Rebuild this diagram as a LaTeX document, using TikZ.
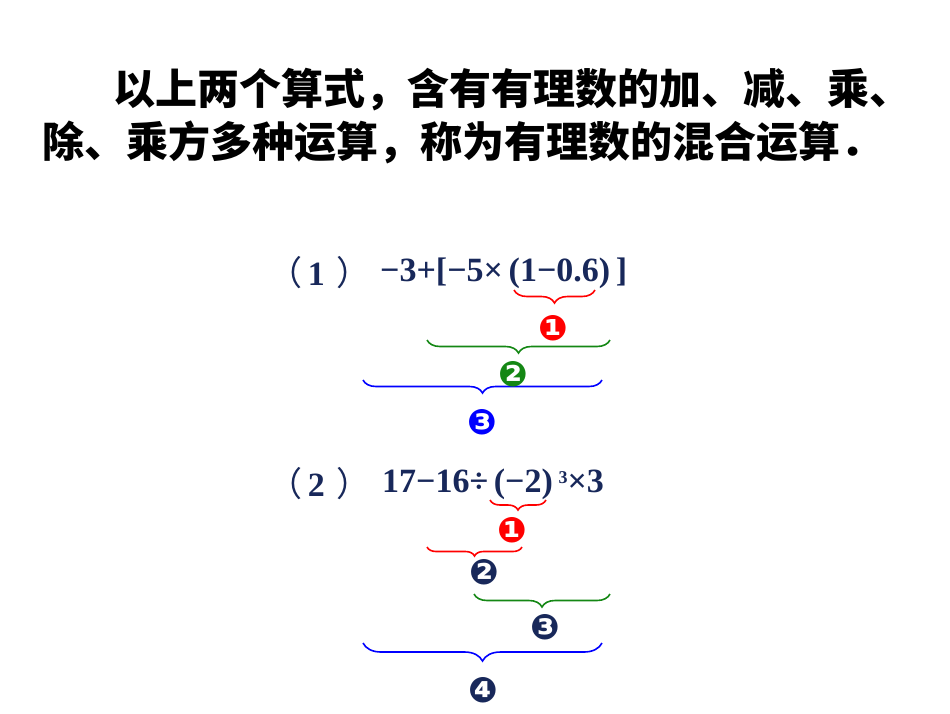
\documentclass[tikz,border=0pt]{standalone}
\usepackage{fontspec}
\setmainfont{Liberation Serif}
\newfontfamily\cjk{Noto Sans CJK SC}
\newfontfamily\dv{DejaVu Sans}
\usetikzlibrary{decorations.pathreplacing}
\definecolor{navy}{RGB}{24,40,90}
\definecolor{dgreen}{RGB}{20,135,20}
\begin{document}
\begin{tikzpicture}[x=1pt, y=-1pt]
  % -----------------------------
  % STYLES
  % -----------------------------
  \tikzset{
    title/.style={font=\cjk\bfseries\fontsize{42}{48}\selectfont, anchor=west, inner sep=0pt},
    formula/.style={font=\bfseries\fontsize{34}{38}\selectfont, text=navy, anchor=west, inner sep=0pt},
    brc/.style={decorate, decoration={brace, mirror, amplitude=13pt}, line width=1.6pt},
    step num/.style={font=\dv\bfseries\fontsize{35}{37}\selectfont, inner sep=0pt},
  }
  \useasboundingbox (0,0) rectangle (950,713);

  % -----------------------------
  % TITLE
  % -----------------------------
  \node[title] (t1) at (113,90) {以上两个算式，含有有理数的加、减、乘、};
  \node[title] (t2) at (42,142) {除、乘方多种运算，称为有理数的混合运算．};

  % -----------------------------
  % FORMULA (1)
  % -----------------------------
  \node[formula] (f1n) at (268,273) {{\cjk\mdseries（}\,1\,\,{\cjk\mdseries）}};
  \node[formula] (f1) at (380,273) {−3+[−5×\,(1−0.6)\,]};

  \coordinate (a1) at (514,290); \coordinate (b1) at (595,290);
  \coordinate (a2) at (427,340); \coordinate (b2) at (610,340);
  \coordinate (a3) at (363,380); \coordinate (b3) at (602,380);
  \draw[brc, red] (a1) -- (b1);
  \draw[brc, dgreen] (a2) -- (b2);
  \draw[brc, blue] (a3) -- (b3);
  \node[step num, text=red] (s11) at (553,328) {❶};
  \node[step num, text=dgreen] (s12) at (513,374) {❷};
  \node[step num, text=blue] (s13) at (482,422) {❸};

  % -----------------------------
  % FORMULA (2)
  % -----------------------------
  \node[formula] (f2n) at (268,484) {{\cjk\mdseries（}\,2\,\,{\cjk\mdseries）}};
  \node[formula] (f2) at (382,484) {17−16÷\,(−2)\,\raisebox{9pt}{\fontsize{18}{20}\selectfont 3}×3};

  \coordinate (c1) at (490,500); \coordinate (d1) at (546,500);
  \coordinate (c2) at (427,547); \coordinate (d2) at (522,547);
  \coordinate (c3) at (474,594); \coordinate (d3) at (610,594);
  \coordinate (c4) at (363,643); \coordinate (d4) at (602,643);
  \draw[brc, red, decoration={amplitude=10pt}] (c1) -- (d1);
  \draw[brc, red, decoration={amplitude=9pt}] (c2) -- (d2);
  \draw[brc, dgreen] (c3) -- (d3);
  \draw[brc, blue, decoration={amplitude=18pt}] (c4) -- (d4);
  \node[step num, text=red] (s21) at (512,530) {❶};
  \node[step num, text=navy] (s22) at (484,572) {❷};
  \node[step num, text=navy] (s23) at (545,627) {❸};
  \node[step num, text=navy] (s24) at (483,690) {❹};
\end{tikzpicture}
\end{document}
